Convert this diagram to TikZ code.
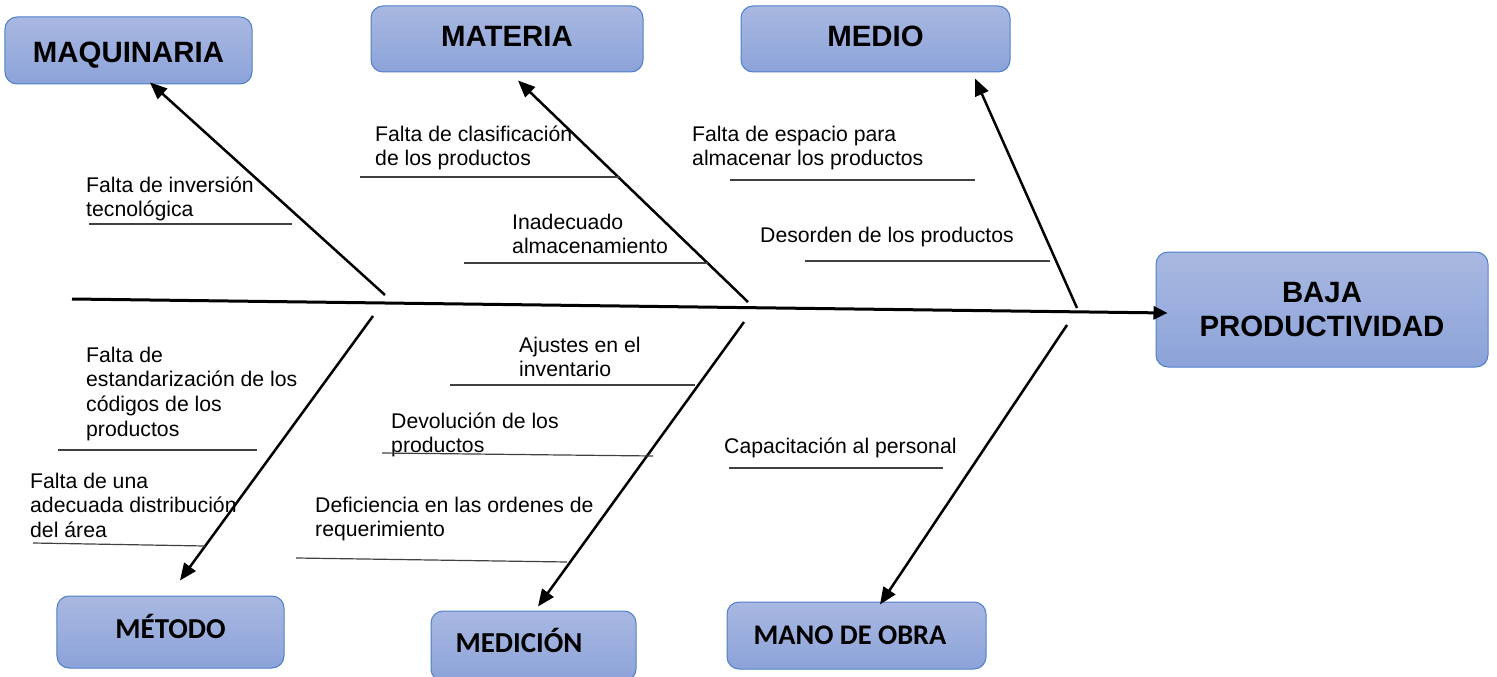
\documentclass[tikz,border=0pt]{standalone}
\usepackage{fontspec}
\setmainfont{Liberation Sans}
\newfontfamily\calib{Carlito}
\usetikzlibrary{arrows.meta}
\definecolor{boxTop}{HTML}{A9B8E1}
\definecolor{boxBot}{HTML}{8CA3D9}
\definecolor{boxEdge}{HTML}{4F7FCB}
\definecolor{ulineCol}{HTML}{404040}
\begin{document}
\begin{tikzpicture}[x=1bp,y=-1bp,
  cat/.style={draw=boxEdge, line width=1bp, top color=boxTop, bottom color=boxBot,
    rounded corners=12bp, inner sep=0pt, align=center,
    font=\fontsize{29.5}{35}\selectfont\bfseries},
  catc/.style={cat, font=\calib\fontsize{29}{34}\selectfont\bfseries},
  bone/.style={line width=2.5bp, -{Triangle[length=17bp,width=14bp]}},
  spine/.style={line width=3bp, -{Triangle[length=14bp,width=13bp]}},
  cause/.style={anchor=base west, inner sep=0pt, align=left,
    font=\fontsize{21.3}{24.7}\selectfont, text=black},
  uline/.style={draw=ulineCol, line width=1.2bp}]
\useasboundingbox (0,0) rectangle (1497,677);

% category boxes
\node[cat, minimum width=247bp, minimum height=67bp, text height=24.4bp, text depth=0bp] (maq) at (128.5,50.5) {MAQUINARIA};
\node[cat, minimum width=272bp, minimum height=66bp, text height=21bp, text depth=5.6bp] (mat) at (507,39) {MATERIA};
\node[cat, minimum width=269bp, minimum height=66bp, text height=21bp, text depth=5.6bp] (med) at (875.5,39) {MEDIO};
\node[cat, minimum width=332bp, minimum height=115bp] (baja) at (1322,309.5) {BAJA\\PRODUCTIVIDAD};
\node[catc, minimum width=227bp, minimum height=72bp, text height=18.7bp, text depth=6bp] (met) at (170.5,632) {MÉTODO};
\node[catc, minimum width=205bp, minimum height=70bp, text height=18.7bp, text depth=6bp] (mdc) at (533.5,646) {MEDICIÓN\hspace*{29bp}};
\node[catc, minimum width=259bp, minimum height=67bp, text height=18.4bp, text depth=0bp, font=\calib\fontsize{28.5}{33}\selectfont\bfseries] (mano) at (856.5,635.5) {MANO DE OBRA\hspace*{13bp}};

% spine
\coordinate (s0) at (72,299);
\draw[spine] (s0) -- ([shift={(12,3.5)}]baja.west);

% bone tails on the spine
\coordinate (bMaq) at (385,295);
\coordinate (bMat) at (748,302);
\coordinate (bMed) at (1077,308);
\coordinate (bMet) at (373,316);
\coordinate (bMdc) at (744,322);
\coordinate (bMano) at (1067,325);

\draw[bone] (bMaq) -- ([shift={(21.5,-2)}]maq.south);
\draw[bone] (bMat) -- ([shift={(11,8)}]mat.south);
\draw[bone] (bMed) -- ([shift={(99.5,6)}]med.south);
\draw[bone] (bMet) -- ([shift={(9.5,-15)}]met.north);
\draw[bone] (bMdc) -- ([shift={(4.5,-4)}]mdc.north);
\draw[bone] (bMano) -- ([shift={(23.5,3)}]mano.north);

% causes (anchored at the baseline of the last line)
\node[cause] (c1) at (86,216.7) {Falta de inversión\\tecnológica};
\draw[uline] (89,224) -- (292,224);
\node[cause] (c2) at (375,165.7) {Falta de clasificación\\de los productos};
\draw[uline] (360,177) -- (620,177);
\node[cause] (c3) at (512,253.7) {Inadecuado\\almacenamiento};
\draw[uline] (464,263) -- (708,263);
\node[cause] (c4) at (692,165.7) {Falta de espacio para\\almacenar los productos};
\draw[uline] (730,180) -- (975,180);
\node[cause] (c5) at (760,242) {Desorden de los productos};
\draw[uline] (805,261) -- (1050,261);
\node[cause] (c6) at (519,376.7) {Ajustes en el\\inventario};
\draw[uline] (450,385) -- (695,385);
\node[cause] (c7) at (391,452.7) {Devolución de los\\productos};
\draw[uline] (382,453) -- (653,456);
\node[cause] (c8) at (86,436.1) {Falta de\\estandarización de los\\códigos de los\\productos};
\draw[uline] (58,450) -- (257,450);
\node[cause] (c9) at (30,537.4) {Falta de una\\adecuada distribución\\del área};
\draw[uline] (33,543) -- (205,546);
\node[cause] (c10) at (315,536.7) {Deficiencia en las ordenes de\\requerimiento};
\draw[uline] (296,558) -- (567,562);
\node[cause] (c11) at (724,453) {Capacitación al personal};
\draw[uline] (729,468) -- (943,468);
\end{tikzpicture}
\end{document}
